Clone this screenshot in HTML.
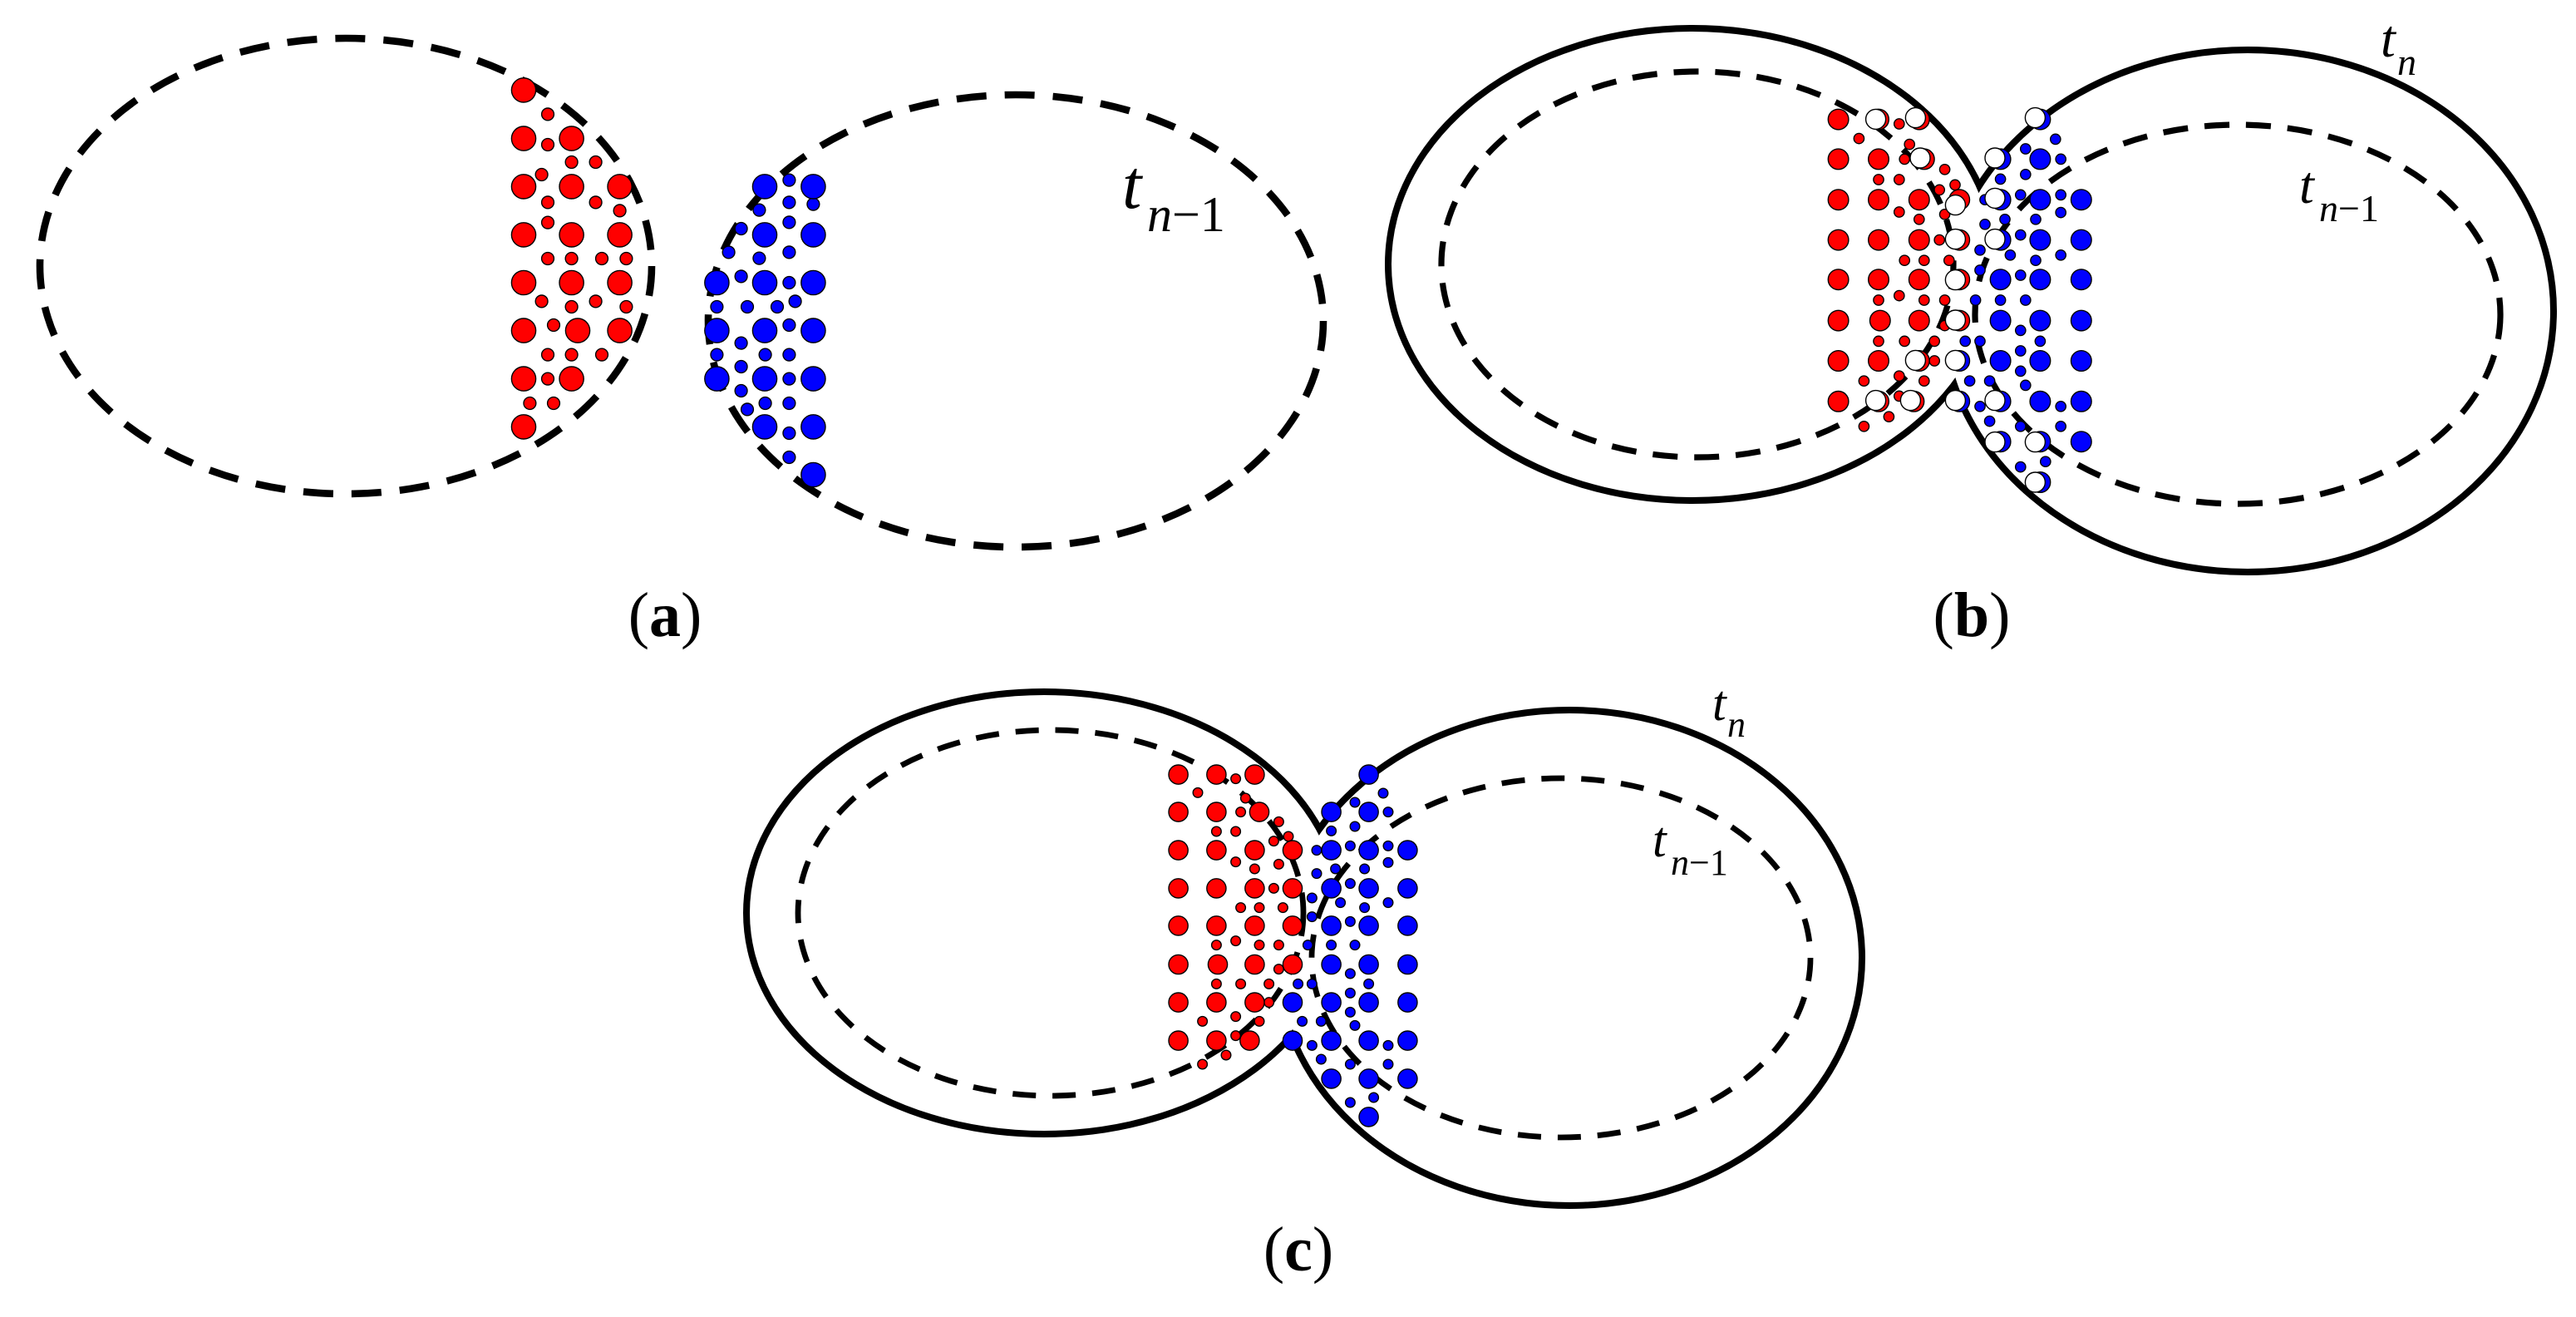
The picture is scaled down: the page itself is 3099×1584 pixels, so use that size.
<!DOCTYPE html>
<html><head><meta charset="utf-8">
<style>html,body{margin:0;padding:0;background:#fff;}svg{display:block;}
text,tspan{font-family:"Liberation Serif","Times New Roman",serif;}</style>
</head><body>
<svg id="s" xmlns="http://www.w3.org/2000/svg" width="3099" height="1584" viewBox="0 0 1549.5 792">
<rect width="1549.5" height="792" fill="#fff"/>
<g fill="none" stroke="#000" stroke-width="4.3" stroke-dasharray="18 11">
<ellipse cx="208" cy="160" rx="184" ry="137"/>
<ellipse cx="611" cy="193" rx="185" ry="136"/>
</g>
<g stroke="#000" stroke-width="8" fill="none">
<ellipse cx="1018" cy="159" rx="181" ry="140"/>
<ellipse cx="1352" cy="187" rx="182" ry="155"/>
</g>
<g fill="#fff" stroke="none">
<ellipse cx="1018" cy="159" rx="181" ry="140"/>
<ellipse cx="1352" cy="187" rx="182" ry="155"/>
</g>
<g fill="none" stroke="#000" stroke-width="3.6" stroke-dasharray="15 10">
<ellipse cx="1021" cy="159" rx="154" ry="116"/>
<ellipse cx="1346" cy="189" rx="158" ry="114"/>
</g>
<g stroke="#000" stroke-width="8" fill="none">
<ellipse cx="628" cy="549" rx="177" ry="131"/>
<ellipse cx="944" cy="576" rx="174" ry="147"/>
</g>
<g fill="#fff" stroke="none">
<ellipse cx="628" cy="549" rx="177" ry="131"/>
<ellipse cx="944" cy="576" rx="174" ry="147"/>
</g>
<g fill="none" stroke="#000" stroke-width="3.4" stroke-dasharray="14 10">
<ellipse cx="632" cy="549" rx="152" ry="110"/>
<ellipse cx="939" cy="576" rx="150" ry="108"/>
</g>
<g id="dots" stroke="#000" stroke-width="0.7"></g>
<g fill="#000">
<text x="400" y="382.5" font-size="38" text-anchor="middle">(<tspan font-weight="bold">a</tspan>)</text>
<text x="1186" y="382.5" font-size="38" text-anchor="middle">(<tspan font-weight="bold">b</tspan>)</text>
<text x="781" y="764" font-size="38" text-anchor="middle">(<tspan font-weight="bold">c</tspan>)</text>
<g font-style="italic">
<text x="675" y="125" font-size="42">t</text>
<text x="690" y="139" font-size="30">n<tspan font-style="normal">−1</tspan></text>
<text x="1432" y="34" font-size="32">t</text>
<text x="1442" y="45" font-size="23">n</text>
<text x="1383" y="122" font-size="32">t</text>
<text x="1395" y="133" font-size="23">n<tspan font-style="normal">−1</tspan></text>
<text x="1030" y="433" font-size="30">t</text>
<text x="1039" y="443" font-size="22">n</text>
<text x="994" y="515" font-size="30">t</text>
<text x="1005" y="526" font-size="22">n<tspan font-style="normal">−1</tspan></text>
</g>
</g>
</svg>
<script>
(function(){
var g=document.getElementById('dots'),out=[];
function c(x,y,r,f){out.push('<circle cx="'+x.toFixed(1)+'" cy="'+y.toFixed(1)+'" r="'+r+'" fill="'+f+'"/>');}
function A(list,r,f){for(var i=0;i<list.length;i+=2)c(300+list[i]/6,40+list[i+1]/6,r,f);}
A([177,172,177,282,263,345,350,345,155,390,177,490,350,490,437,520,177,563,177,693,263,693,372,693,460,693,155,847,263,867,350,847,460,867,198,933,177,1040,263,1040,372,1040,177,1127,112,1215,198,1215],3.7,'#f00');
A([90,85,90,260,263,260,90,433,263,433,437,433,90,607,263,607,437,607,90,780,263,780,437,780,90,953,285,953,437,953,90,1127,263,1127,90,1300],7.3,'#f00');
A([1048,410,1048,490,1135,497,940,518,1048,562,875,585,1048,670,830,670,940,692,875,757,1048,780,1070,847,787,867,897,867,1005,867,1048,933,875,998,787,1040,962,1040,1048,1040,875,1083,1048,1127,875,1170,897,1237,962,1215,1048,1215,1048,1323,1048,1410],3.7,'#00f');
A([960,433,1135,433,960,607,1135,607,787,780,960,780,1135,780,787,953,960,953,1135,953,787,1127,960,1127,1135,1127,960,1300,1135,1300,1135,1473],7.3,'#00f');
var redBig=[113,95,250,95,388,95,113,230,250,230,405,230];
[368,505,640,780].forEach(function(y,i){redBig.push(113,y,i==3?255:250,y,388,y,525,y);});
redBig.push(113,917,250,917,388,917,113,1055,250,1055,370,1055);
var blueBig=[800,95,665,230,800,230];
[368,505,640,780].forEach(function(y){blueBig.push(665,y,800,y,940,y);});
[917,1055].forEach(function(y){blueBig.push(525,y,665,y,800,y,940,y);});
blueBig.push(665,1192,800,1192,940,1192,800,1330);
var redS=[183,160,320,110,355,180,338,230,475,265,250,300,320,300,510,318,457,335,320,410,388,435,475,418,457,505,338,575,405,575,490,575,250,710,320,695,405,710,475,710,475,797,250,850,338,850,440,850,440,917,200,985,320,968,405,985,320,1037,285,1107,200,1140];
var blueS=[852,162,750,195,870,230,750,282,665,298,733,352,870,352,612,368,870,412,680,435,785,435,612,452,733,488,595,540,698,557,785,575,870,557,595,608,733,625,580,710,665,710,750,710,733,813,545,850,595,850,800,850,733,883,733,952,560,985,628,985,750,1000,595,1072,870,1072,628,1122,733,1140,870,1140,733,1278,818,1260];
function P(tx,ty,s){
 function d(list,r,f){for(var i=0;i<list.length;i+=2){var x=690+list[i]/6,y=450+list[i+1]/6;c((x-709)*s+tx,(y-466)*s+ty,(r*s).toFixed(2),f);}}
 d(redS,2.9,'#f00');d(blueS,2.9,'#00f');d(redBig,5.8,'#f00');d(blueBig,5.8,'#00f');
}
P(709,466,1);
P(1106,72,1.06);
var op=[230,130,373,125,390,270,660,270,805,125,517,440,660,415,517,563,660,563,517,710,517,855,373,1000,517,1000,230,1145,355,1145,517,1145,660,1145,660,1295,805,1295,805,1440];
for(var i=0;i<op.length;i+=2)c(1090+op[i]/6,50+op[i+1]/6,6,'#fff');
g.innerHTML=out.join('');
})();
</script>
</body></html>
